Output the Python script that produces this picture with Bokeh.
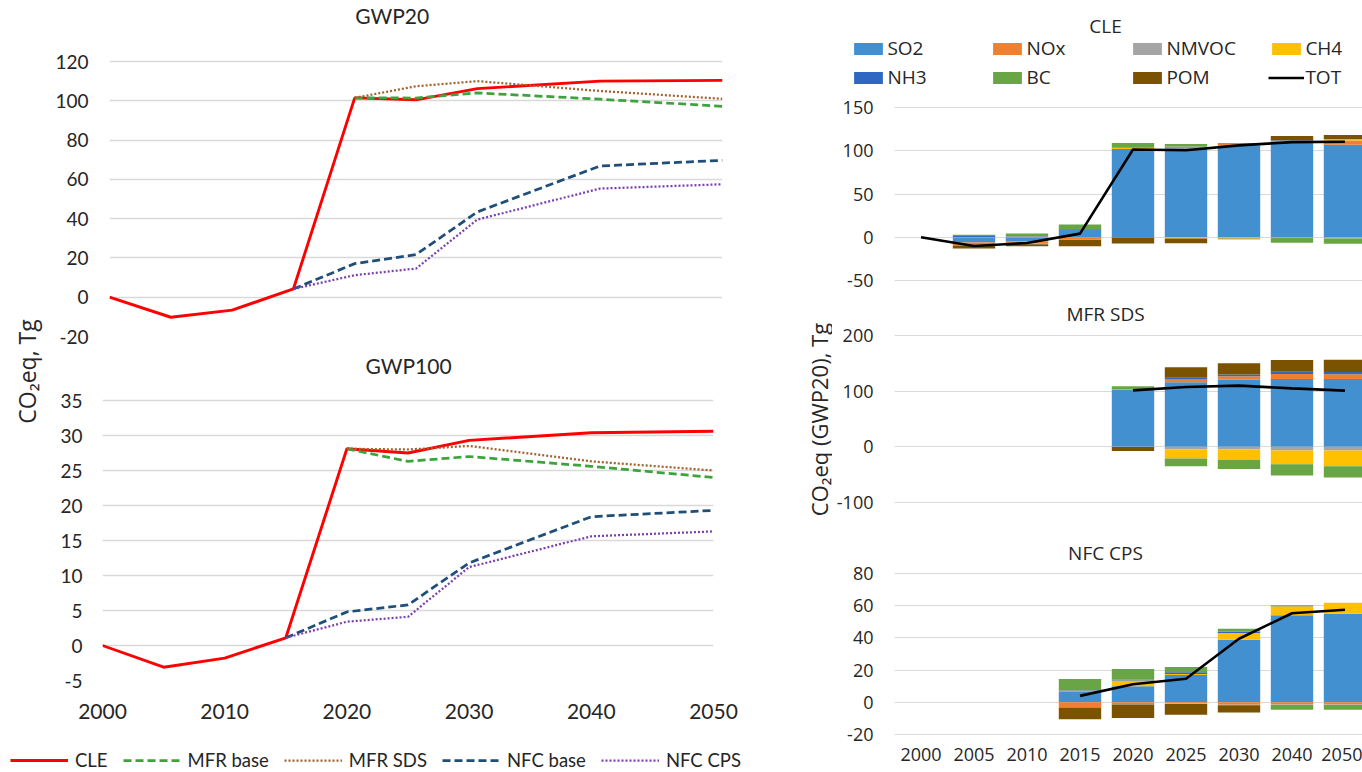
import math
import numpy as np
from bokeh.plotting import figure
from bokeh.models import Range1d, FixedTicker, Legend, LegendItem, Label, ColumnDataSource
from bokeh.layouts import row, column
from bokeh.embed import file_html
from bokeh.resources import INLINE

NA = float("nan")

# ---------------- data: left line panels ----------------
YEARS = [2000, 2005, 2010, 2015, 2020, 2025, 2030, 2040, 2050]
SCENARIOS = ["CLE", "MFR base", "MFR SDS", "NFC base", "NFC CPS"]

GWP20_CLE      = [0.0, -10.2, -6.6, 4.2, 101.5, 100.5, 106.2, 110.0, 110.4]
GWP20_MFR_BASE = [NA, NA, NA, NA, 101.5, 101.4, 104.0, 100.8, 97.2]
GWP20_MFR_SDS  = [NA, NA, NA, NA, 101.5, 107.4, 110.0, 105.0, 101.0]
GWP20_NFC_BASE = [NA, NA, NA, 4.2, 17.1, 21.7, 43.4, 66.8, 69.7]
GWP20_NFC_CPS  = [NA, NA, NA, 4.2, 11.2, 14.6, 39.5, 55.3, 57.5]

GWP100_CLE      = [0.0, -3.1, -1.8, 1.1, 28.1, 27.5, 29.3, 30.4, 30.6]
GWP100_MFR_BASE = [NA, NA, NA, NA, 28.1, 26.3, 27.0, 25.6, 24.0]
GWP100_MFR_SDS  = [NA, NA, NA, NA, 28.1, 28.0, 28.5, 26.3, 25.0]
GWP100_NFC_BASE = [NA, NA, NA, 1.1, 4.8, 5.8, 11.8, 18.4, 19.3]
GWP100_NFC_CPS  = [NA, NA, NA, 1.1, 3.4, 4.1, 11.2, 15.6, 16.3]

GWP20_TICKS = [-20, 0, 20, 40, 60, 80, 100, 120]
GWP100_TICKS = [-5, 0, 5, 10, 15, 20, 25, 30, 35]
LEFT_X_TICKS = [2000, 2010, 2020, 2030, 2040, 2050]

# ---------------- data: right stacked bar panels ----------------
BAR_YEARS = ["2000", "2005", "2010", "2015", "2020", "2025", "2030", "2040", "2050"]
SPECIES = ["SO2", "NOx", "NMVOC", "CH4", "NH3", "BC", "POM"]

CLE_SO2   = [NA, -6.0, -4.5, 8.5, 102.0, 103.0, 106.0, 109.0, 106.8]
CLE_NOX   = [NA, -3.0, -3.0, -2.5, 0.0, 1.5, 2.5, 2.5, 5.0]
CLE_NMVOC = [NA, -0.5, -0.5, -0.3, -0.3, -0.3, -0.5, -0.8, -1.5]
CLE_CH4   = [NA, 0.3, 1.0, 0.3, 1.2, -1.2, -1.0, 0.0, 1.5]
CLE_NH3   = [NA, 1.2, 1.3, 0.7, 0.3, 0.3, 0.5, 0.5, 0.3]
CLE_BC    = [NA, 1.5, 2.0, 5.3, 5.5, 3.0, -0.2, -5.5, -6.0]
CLE_POM   = [NA, -3.5, -2.3, -7.5, -7.0, -5.3, -0.5, 5.0, 4.5]
CLE_TOT   = [0.0, -10.2, -6.6, 4.2, 101.5, 100.5, 106.2, 110.0, 110.4]

SDS_SO2   = [NA, NA, NA, NA, 102.0, 116.0, 121.0, 122.0, 122.0]
SDS_NOX   = [NA, NA, NA, NA, 0.0, 5.0, 6.0, 9.0, 8.5]
SDS_NMVOC = [NA, NA, NA, NA, -0.3, -5.0, -5.0, -6.5, -6.5]
SDS_CH4   = [NA, NA, NA, NA, 1.2, -16.0, -18.0, -25.0, -28.5]
SDS_NH3   = [NA, NA, NA, NA, 0.3, 3.0, 3.0, 4.0, 4.0]
SDS_BC    = [NA, NA, NA, NA, 5.5, -14.0, -17.0, -20.0, -20.0]
SDS_POM   = [NA, NA, NA, NA, -7.0, 19.0, 20.0, 21.0, 22.0]
SDS_TOT   = [NA, NA, NA, NA, 101.5, 107.4, 110.0, 105.0, 101.0]

CPS_SO2   = [NA, NA, NA, 6.8, 10.0, 17.0, 38.9, 54.0, 55.0]
CPS_NOX   = [NA, NA, NA, -3.0, -1.0, -0.8, -1.5, -1.3, -1.3]
CPS_NMVOC = [NA, NA, NA, -0.3, -0.3, -0.3, -0.3, -0.3, -0.3]
CPS_CH4   = [NA, NA, NA, 0.5, 3.5, 0.6, 4.1, 5.6, 6.8]
CPS_NH3   = [NA, NA, NA, 0.8, 0.5, 1.0, 1.0, 0.6, 0.1]
CPS_BC    = [NA, NA, NA, 6.3, 6.7, 3.3, 1.7, -3.0, -3.0]
CPS_POM   = [NA, NA, NA, -7.3, -8.5, -6.6, -4.6, 0.0, 0.0]
CPS_TOT   = [NA, NA, NA, 4.0, 11.2, 14.6, 39.5, 55.3, 57.5]

CLE_TICKS = [-50, 0, 50, 100, 150]
SDS_TICKS = [-100, 0, 100, 200]
CPS_TICKS = [-20, 0, 20, 40, 60, 80]

# ---------------- styles ----------------
TEXT = "#262626"
GRID = "#D9D9D9"
LFONT = "Lato"
RFONT = "Open Sans"
LINE_STYLE = {
    "CLE":      dict(line_color="#FF0000", line_width=2.9, line_dash="solid"),
    "MFR base": dict(line_color="#3DA33D", line_width=2.75, line_dash="8 4"),
    "MFR SDS":  dict(line_color="#A0622D", line_width=2.25, line_dash="2 2"),
    "NFC base": dict(line_color="#1F4E79", line_width=2.75, line_dash="8 4"),
    "NFC CPS":  dict(line_color="#7B3FB0", line_width=2.25, line_dash="2 2"),
}
SPECIES_COLOR = {"SO2": "#4290D0", "NOx": "#F08030", "NMVOC": "#A5A5A5", "CH4": "#FFC000",
                 "NH3": "#2F67C2", "BC": "#6AA545", "POM": "#7A5200"}


def span(top_px, top_val, bot_px, bot_val, frame_top, frame_bot):
    """y-range so that top_val sits at top_px and bot_val at bot_px (page pixels)."""
    k = (top_val - bot_val) / (bot_px - top_px)
    return bot_val - (frame_bot - bot_px) * k, top_val + (top_px - frame_top) * k, k


def base(width, height, xr, yr, mb):
    p = figure(width=width, height=height, x_range=xr, y_range=yr,
               output_backend="svg", toolbar_location=None, tools="",
               min_border_left=mb[0], min_border_right=mb[1],
               min_border_top=mb[2], min_border_bottom=mb[3])
    p.outline_line_color = None
    p.background_fill_color = "white"
    p.border_fill_color = "white"
    p.xgrid.visible = False
    for ax in p.axis:
        ax.axis_line_color = None
        ax.major_tick_line_color = None
        ax.minor_tick_line_color = None
        ax.major_tick_out = 0
        ax.major_tick_in = 0
        ax.major_label_text_color = TEXT
    return p


def set_yticks(p, ticks, font, size, standoff, gw):
    t = FixedTicker(ticks=ticks, minor_ticks=[])
    p.yaxis.ticker = t
    p.ygrid.ticker = t
    p.yaxis.major_label_overrides = {v: str(v) for v in ticks}
    p.yaxis.major_label_text_font = font
    p.yaxis.major_label_text_font_size = size
    p.yaxis.major_label_standoff = standoff
    p.ygrid.grid_line_color = GRID
    p.ygrid.grid_line_width = gw


def text_label(p, x, y, text, font, size, angle=0.0):
    p.add_layout(Label(x=x, y=y, text=text, text_font=font, text_font_size=size,
                       text_color=TEXT, text_align="center", text_baseline="middle",
                       angle=angle))


def text_fig(w, h, text, fx, fy, size):
    p = figure(width=w, height=h, x_range=Range1d(0, 1), y_range=Range1d(0, 1),
               output_backend="svg", toolbar_location=None, tools="", min_border=0)
    p.xaxis.visible = False
    p.yaxis.visible = False
    p.grid.visible = False
    p.outline_line_color = None
    text_label(p, fx, fy, text, RFONT, size, angle=math.pi / 2)
    return p


# ---------------- left panels ----------------
gwp20 = [GWP20_CLE, GWP20_MFR_BASE, GWP20_MFR_SDS, GWP20_NFC_BASE, GWP20_NFC_CPS]
gwp100 = [GWP100_CLE, GWP100_MFR_BASE, GWP100_MFR_SDS, GWP100_NFC_BASE, GWP100_NFC_CPS]

# panel A: page y 0..352, frame 0..336 (120 at y=61, -20 at y=336), x frame 106..722
a0, a1, ka = span(61, 120, 336, -20, 0, 336)
pA = base(718, 352, Range1d(2000, 2050), Range1d(a0, a1), (54, 48, 0, 16))
set_yticks(pA, GWP20_TICKS, LFONT, "19px", 21, 1.6)
pA.xaxis.visible = False
for name, vals in zip(SCENARIOS, gwp20):
    pA.line(YEARS, vals, **LINE_STYLE[name])
text_label(pA, 2000 + (390 - 106) / 616 * 50, 120 + (61 - 15) * ka, "GWP20", LFONT, "21px")

# panel B: page y 352..730, frame 352..680 (35 at 400, -5 at 680), x frame 102..713
b0, b1, kb = span(400, 35, 680, -5, 352, 680)
pB = base(718, 378, Range1d(2000, 2050), Range1d(b0, b1), (50, 57, 0, 50))
set_yticks(pB, GWP100_TICKS, LFONT, "19px", 20, 1.6)
xt = FixedTicker(ticks=LEFT_X_TICKS, minor_ticks=[])
pB.xaxis.ticker = xt
pB.xaxis.major_label_overrides = {v: str(v) for v in LEFT_X_TICKS}
pB.xaxis.major_label_text_font = LFONT
pB.xaxis.major_label_text_font_size = "21px"
pB.xaxis.major_label_standoff = 23
for name, vals in zip(SCENARIOS, gwp100):
    pB.line(YEARS, vals, **LINE_STYLE[name])
text_label(pB, 2000 + (408 - 102) / 611 * 50, 35 + (400 - 365) * kb, "GWP100", LFONT, "21px")

# legend strip: page y 730..772 (lines drawn out of view, only the legend shows)
pL = base(770, 42, Range1d(2000, 2050), Range1d(1000, 1001), (0, 0, 0, 0))
pL.xaxis.visible = False
pL.yaxis.visible = False
pL.ygrid.visible = False
items = []
for name, vals in zip(SCENARIOS, gwp20):
    r = pL.line(YEARS, vals, **LINE_STYLE[name])
    items.append(LegendItem(label=name, renderers=[r]))
legL = Legend(items=items, orientation="horizontal", location=(10, 1),
              glyph_width=58, glyph_height=20, label_standoff=7, spacing=15,
              padding=0, margin=0, border_line_color=None, background_fill_alpha=0,
              label_text_font=LFONT, label_text_font_size="18.5px", label_text_color=TEXT)
pL.add_layout(legL)

labL = text_fig(52, 730, "CO\u2082eq, Tg", 26 / 52, (730 - 371) / 730, "23px")

# ---------------- right panels ----------------
IDX = list(range(len(BAR_YEARS)))
XR0 = -0.5
XR1 = -0.5 + 468 / 53.0


def stacked(p, series_list):
    arr = np.nan_to_num(np.array(series_list, dtype=float))
    pos = np.zeros(arr.shape[1])
    neg = np.zeros(arr.shape[1])
    rends = {}
    for sp, v in zip(SPECIES, arr):
        b = np.where(v >= 0, pos, neg + v)
        t = np.where(v >= 0, pos + v, neg)
        pos = pos + np.clip(v, 0, None)
        neg = neg + np.clip(v, None, 0)
        src = ColumnDataSource(dict(x=IDX, b=b, t=t))
        rends[sp] = p.vbar(x="x", width=0.8, bottom="b", top="t", source=src,
                           fill_color=SPECIES_COLOR[sp], line_color=None)
    return rends


def right_panel(height, yr, ticks, mb, series_list, tot, title, title_y, show_x):
    p = base(530, height, Range1d(XR0, XR1), Range1d(yr[0], yr[1]), mb)
    set_yticks(p, ticks, RFONT, "18px", 21, 1.2)
    if show_x:
        t = FixedTicker(ticks=IDX, minor_ticks=[])
        p.xaxis.ticker = t
        p.xaxis.major_label_overrides = {i: y for i, y in zip(IDX, BAR_YEARS)}
        p.xaxis.major_label_text_font = RFONT
        p.xaxis.major_label_text_font_size = "18px"
        p.xaxis.major_label_standoff = 0
    else:
        p.xaxis.visible = False
    rends = stacked(p, series_list)
    rends["TOT"] = p.line(IDX, tot, line_color="black", line_width=2.6)
    if title is not None:
        text_label(p, XR0 + (1105 - 894) / 53.0, title_y, title, RFONT, "19px")
    return p, rends


CLE_SERIES = [CLE_SO2, CLE_NOX, CLE_NMVOC, CLE_CH4, CLE_NH3, CLE_BC, CLE_POM]

# CLE title + legend strip: page x 770..1362, y 0..92 (data drawn out of view)
pCL = base(592, 92, Range1d(770, 1362), Range1d(1000, 1092), (0, 0, 0, 0))
pCL.xaxis.visible = False
pCL.yaxis.visible = False
pCL.ygrid.visible = False
rL = stacked(pCL, CLE_SERIES)
rL["TOT"] = pCL.line(IDX, CLE_TOT, line_color="black", line_width=2.6)
text_label(pCL, 1105, 1000 + (92 - 25), "CLE", RFONT, "19px")
cols = [("SO2", "NH3", 854), ("NOx", "BC", 993), ("NMVOC", "POM", 1133), ("CH4", "TOT", 1272)]
for s1, s2, px in cols:
    lg = Legend(items=[LegendItem(label=s1, renderers=[rL[s1]]),
                       LegendItem(label=s2, renderers=[rL[s2]])],
                orientation="vertical", location=(px - 3.6 - 770, 92 - 77 - 13),
                glyph_width=36, glyph_height=15, label_height=26, label_standoff=1,
                spacing=3, padding=0, margin=0, border_line_color=None,
                background_fill_alpha=0, label_text_font=RFONT,
                label_text_font_size="19px", label_text_color=TEXT)
    pCL.add_layout(lg)

# CLE bars: page y 92..296
c0, c1, kc = span(107, 150, 280, -50, 92, 296)
pC, rC = right_panel(204, (c0, c1), CLE_TICKS, (62, 0, 0, 0), CLE_SERIES,
                     CLE_TOT, None, None, False)

# MFR SDS: page y 296..525
s0, s1_, ks = span(335, 200, 502, -100, 296, 525)
pS, rS = right_panel(229, (s0, s1_), SDS_TICKS, (62, 0, 0, 0),
                     [SDS_SO2, SDS_NOX, SDS_NMVOC, SDS_CH4, SDS_NH3, SDS_BC, SDS_POM],
                     SDS_TOT, "MFR SDS", 200 + (335 - 313) * ks, False)

# NFC CPS: page y 525..772, frame 525..747
n0, n1, kn = span(573, 80, 734, -20, 525, 747)
pN, rN = right_panel(247, (n0, n1), CPS_TICKS, (62, 0, 0, 25),
                     [CPS_SO2, CPS_NOX, CPS_NMVOC, CPS_CH4, CPS_NH3, CPS_BC, CPS_POM],
                     CPS_TOT, "NFC CPS", 80 + (573 - 552) * kn, True)

labR = text_fig(62, 680, "CO\u2082eq (GWP20), Tg", (818 - 770) / 62, (772 - 419) / 680, "22px")

left_block = column(row(labL, column(pA, row(pB))), pL)
right_block = column(pCL, row(labR, column(pC, pS, pN)))
layout = row(left_block, right_block)

open("out.html", "w").write(file_html(layout, INLINE))
